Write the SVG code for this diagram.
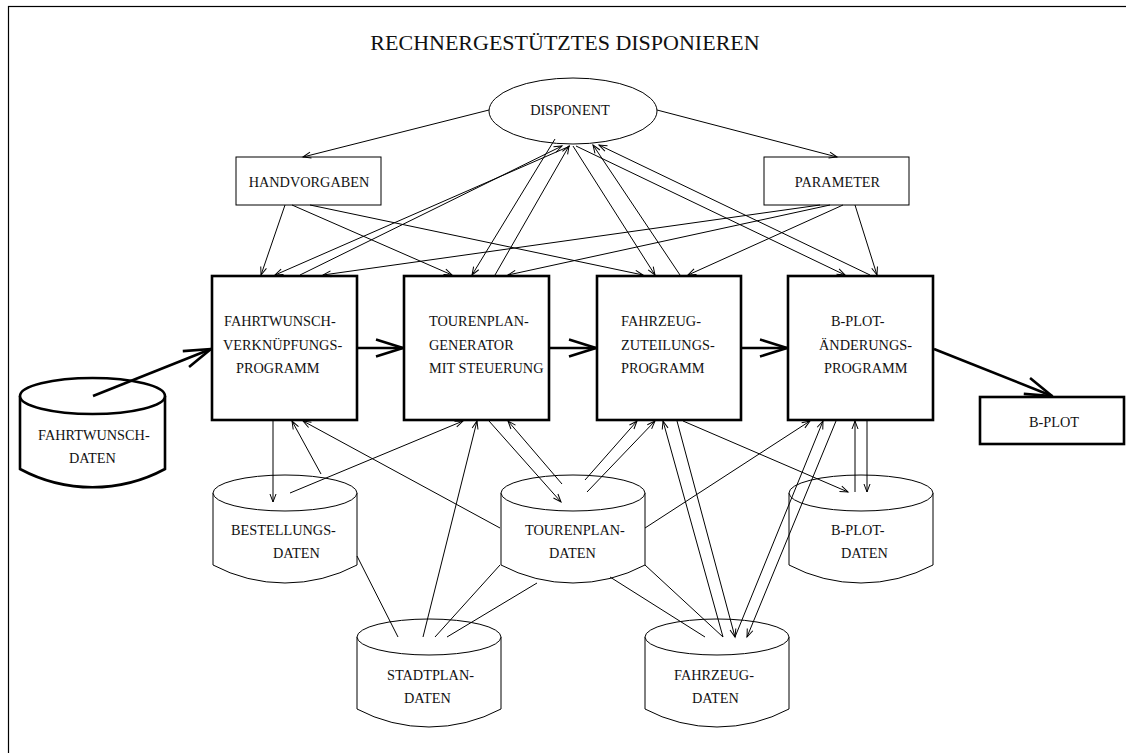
<svg xmlns="http://www.w3.org/2000/svg" width="1126" height="753" viewBox="0 0 1126 753">
<style>
text{font-family:"Liberation Serif","Times New Roman",serif;font-size:14.3px;fill:#111}
.title{font-size:22px}
.thin{fill:#fff;stroke:#000;stroke-width:1}
.thick{fill:#fff;stroke:#000;stroke-width:2.6}
.c{fill:none;stroke:#000;stroke-width:1;marker-end:url(#a)}
.u{fill:none;stroke:#000;stroke-width:1}
.big{fill:none;stroke:#000;stroke-width:2.6;marker-end:url(#A)}
</style>
<defs>
<marker id="a" markerUnits="userSpaceOnUse" orient="auto" markerWidth="12" markerHeight="10" viewBox="-10 -5 12 10" refX="0" refY="0" overflow="visible">
<path d="M-8,-3 L0,0 L-8,3" fill="none" stroke="#000" stroke-width="1"/>
</marker>
<marker id="A" markerUnits="userSpaceOnUse" orient="auto" markerWidth="34" markerHeight="24" viewBox="-30 -12 34 24" refX="0" refY="0" overflow="visible">
<path d="M-27,-8.5 L0,0 L-27,8.5" fill="none" stroke="#000" stroke-width="2.6" stroke-linejoin="round"/>
</marker>
</defs>
<rect x="8.5" y="6.5" width="1130" height="760" fill="none" stroke="#000" stroke-width="1.2"/>
<text class="title" x="565" y="50" text-anchor="middle">RECHNERGESTÜTZTES DISPONIEREN</text>

<g id="disponent"><ellipse class="thin" cx="573" cy="111" rx="84" ry="33"/><text x="570" y="115" text-anchor="middle">DISPONENT</text></g>
<g id="handvorgaben"><rect class="thin" x="236" y="157" width="145" height="48"/><text x="309" y="187" text-anchor="middle">HANDVORGABEN</text></g>
<g id="parameter"><rect class="thin" x="764" y="157" width="145" height="48"/><text x="837.5" y="187" text-anchor="middle">PARAMETER</text></g>

<g id="fahrtwunsch-prog"><rect class="thick" x="212" y="276" width="145" height="144"/>
<text x="224" y="326">FAHRTWUNSCH-</text><text x="223" y="350">VERKNÜPFUNGS-</text><text x="236" y="373">PROGRAMM</text></g>
<g id="tourenplan-gen"><rect class="thick" x="404" y="276" width="145" height="144"/>
<text x="429" y="326">TOURENPLAN-</text><text x="429" y="350">GENERATOR</text><text x="429" y="373">MIT STEUERUNG</text></g>
<g id="fahrzeug-prog"><rect class="thick" x="597" y="276" width="144" height="144"/>
<text x="621" y="326">FAHRZEUG-</text><text x="621" y="350">ZUTEILUNGS-</text><text x="621" y="373">PROGRAMM</text></g>
<g id="bplot-prog"><rect class="thick" x="788" y="276" width="145" height="144"/>
<text x="831" y="326">B-PLOT-</text><text x="819" y="350">ÄNDERUNGS-</text><text x="824" y="373">PROGRAMM</text></g>
<g id="bplot"><rect class="thick" x="980" y="397" width="144" height="47"/><text x="1029" y="427">B-PLOT</text></g>

<g id="fahrtwunsch-daten"><path class="thick" d="M20,396 L20,469 A153,153 0 0 0 165,469 L165,396"/><ellipse class="thick" cx="92.5" cy="396" rx="72.5" ry="18"/>
<text x="38" y="440">FAHRTWUNSCH-</text><text x="69" y="463">DATEN</text></g>
<g id="bestellungs-daten"><path class="thin" d="M213,493 L213,565 A153,153 0 0 0 357,565 L357,493"/><ellipse class="thin" cx="285" cy="493" rx="72" ry="18"/>
<text x="231" y="535">BESTELLUNGS-</text><text x="273" y="558">DATEN</text></g>
<g id="tourenplan-daten"><path class="thin" d="M501,493 L501,565 A153,153 0 0 0 645,565 L645,493"/><ellipse class="thin" cx="573" cy="493" rx="72" ry="18"/>
<text x="525" y="535">TOURENPLAN-</text><text x="549" y="558">DATEN</text></g>
<g id="bplot-daten"><path class="thin" d="M789,493 L789,565 A153,153 0 0 0 933,565 L933,493"/><ellipse class="thin" cx="861" cy="493" rx="72" ry="18"/>
<text x="831" y="535">B-PLOT-</text><text x="841" y="558">DATEN</text></g>
<g id="stadtplan-daten"><path class="thin" d="M357,637 L357,709 A153,153 0 0 0 501,709 L501,637"/><ellipse class="thin" cx="429" cy="637" rx="72" ry="18"/>
<text x="387" y="680">STADTPLAN-</text><text x="404" y="703">DATEN</text></g>
<g id="fahrzeug-daten"><path class="thin" d="M645,637 L645,709 A153,153 0 0 0 789,709 L789,637"/><ellipse class="thin" cx="717" cy="637" rx="72" ry="18"/>
<text x="674" y="680">FAHRZEUG-</text><text x="692" y="703">DATEN</text></g>

<g id="connectors">
<path class="big" d="M93,396 L211,349"/>
<path class="big" d="M357,348 L403,348"/>
<path class="big" d="M549,348 L596,348"/>
<path class="big" d="M741,348 L787,348"/>
<path class="big" d="M934,349 L1052,396"/>

<path class="c" d="M489,110 L303,157"/>
<path class="c" d="M657,110 L837,157"/>
<path class="c" d="M285,205 L261,275"/>
<path class="c" d="M292,205 L452,275"/>
<path class="c" d="M310,205 L643,275"/>
<path class="c" d="M820,205 L323,275"/>
<path class="c" d="M830,205 L508,275"/>
<path class="c" d="M843,205 L688,275"/>
<path class="c" d="M855,205 L877,275"/>
<path class="c" d="M570,146 L275,275"/>
<path class="c" d="M300,275 L562,146"/>
<path class="c" d="M555,139 L472,275"/>
<path class="c" d="M495,275 L569,146"/>
<path class="c" d="M573,146 L655,275"/>
<path class="c" d="M680,275 L593,145"/>
<path class="c" d="M576,146 L845,275"/>
<path class="c" d="M870,275 L599,145"/>

<path class="c" d="M273,421 L273,502"/>
<path class="c" d="M321,474 L292,421"/>
<path class="c" d="M500,528 L303,421"/>
<path class="c" d="M290,493 L463,421"/>
<path class="c" d="M423,637 L477,421"/>
<path class="c" d="M489,421 L561,502"/>
<path class="c" d="M562,484 L508,421"/>
<path class="c" d="M585,480 L637,421"/>
<path class="c" d="M587,492 L655,421"/>
<path class="c" d="M683,421 L848,492"/>
<path class="c" d="M723,637 L663,421"/>
<path class="c" d="M677,421 L735,637"/>
<path class="c" d="M735,637 L823,421"/>
<path class="c" d="M836,421 L747,637"/>
<path class="c" d="M645,528 L810,421"/>
<path class="c" d="M855,492 L855,421"/>
<path class="c" d="M867,421 L867,492"/>

<path class="u" d="M357,556 L398,637"/>
<path class="u" d="M435,637 L500,565"/>
<path class="u" d="M447,637 L537,583"/>
<path class="u" d="M645,565 L723,637"/>
<path class="u" d="M610,577 L705,637"/>
</g>
</svg>
